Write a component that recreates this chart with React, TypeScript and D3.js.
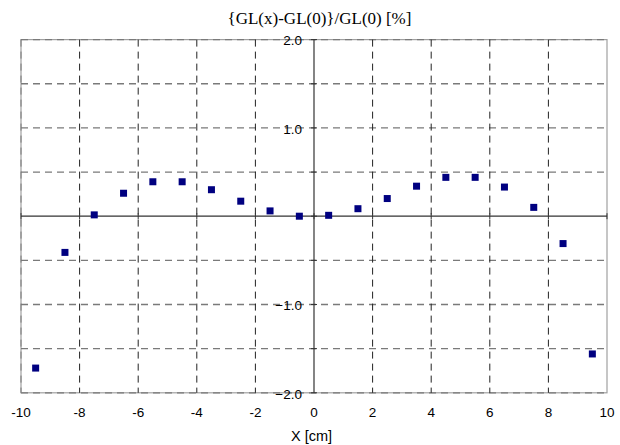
import React from "react";
import * as d3 from "d3";

const xValues = [-9.5, -8.5, -7.5, -6.5, -5.5, -4.5, -3.5, -2.5, -1.5, -0.5, 0.5, 1.5, 2.5, 3.5, 4.5, 5.5, 6.5, 7.5, 8.5, 9.5];
const yValues = [-1.72, -0.41, 0.015, 0.26, 0.39, 0.39, 0.3, 0.17, 0.06, 0.0, 0.01, 0.085, 0.2, 0.34, 0.44, 0.44, 0.33, 0.1, -0.31, -1.56];
const xTicks = [-10, -8, -6, -4, -2, 0, 2, 4, 6, 8, 10];
const yGrid = [-2, -1.5, -1, -0.5, 0, 0.5, 1, 1.5, 2];
const yLabels = [2, 1, -1, -2];
const title = "{GL(x)-GL(0)}/GL(0) [%]";
const xTitle = "X [cm]";

export default function App() {
  const W = 620, H = 445;
  const left = 21, right = 607, top = 39.6, bottom = 392.8;
  const x = d3.scaleLinear().domain([-10, 10]).range([left, right]);
  const y = d3.scaleLinear().domain([-2, 2]).range([bottom, top]);
  const sans = "Arial, 'Liberation Sans', sans-serif";
  const ms = 7;
  return (
    <svg width={W} height={H} style={{ position: "absolute", left: 0, top: 0 }}>
      <rect x={0} y={0} width={W} height={H} fill="#fff" />
      <rect x={left} y={top} width={right - left} height={bottom - top} fill="none" stroke="#a0a0a0" strokeWidth={1.2} />
      {yGrid.filter((v) => v !== 0).map((v) => (
        <line key={"h" + v} x1={left} x2={right} y1={y(v)} y2={y(v)} stroke="#7a7a7a" strokeWidth={1.3} strokeDasharray="7,5" />
      ))}
      {xTicks.filter((v) => v !== 0 && v !== 10).map((v) => (
        <line key={"v" + v} x1={x(v)} x2={x(v)} y1={top} y2={bottom} stroke={v === -10 ? "#7a7a7a" : "#222"} strokeWidth={1} strokeDasharray="7,5" />
      ))}
      <line x1={left} x2={right} y1={y(0)} y2={y(0)} stroke="#333" strokeWidth={1.2} />
      <line x1={x(0)} x2={x(0)} y1={top} y2={bottom} stroke="#333" strokeWidth={1.2} />
      {xTicks.map((v) => (
        <line key={"xt" + v} x1={x(v)} x2={x(v)} y1={y(0) - 3} y2={y(0) + 3} stroke="#333" strokeWidth={1} />
      ))}
      {yGrid.map((v) => (
        <line key={"yt" + v} x1={x(0) - 3} x2={x(0) + 3} y1={y(v)} y2={y(v)} stroke="#333" strokeWidth={1} />
      ))}
      {yLabels.map((v) => (
        <text key={"yl" + v} x={x(0) - 12} y={y(v) + 1} dy="0.35em" textAnchor="end" fontFamily={sans} fontSize={13.5} fill="#000">
          {d3.format(".1f")(v)}
        </text>
      ))}
      {xTicks.map((v) => (
        <text key={"xl" + v} x={x(v)} y={412} dy="0.35em" textAnchor="middle" fontFamily={sans} fontSize={13.5} fill="#000">
          {v}
        </text>
      ))}
      <text x={311.5} y={436} dy="0.35em" textAnchor="middle" fontFamily={sans} fontSize={14.5} fill="#000">{xTitle}</text>
      <text x={319.5} y={18.5} dy="0.35em" textAnchor="middle" fontFamily="'Times New Roman', 'Liberation Serif', serif" fontSize={17} fill="#000">{title}</text>
      {xValues.map((xv, i) => (
        <rect key={"p" + i} x={x(xv) - ms / 2} y={y(yValues[i]) - ms / 2} width={ms} height={ms} fill="#000080" />
      ))}
    </svg>
  );
}
